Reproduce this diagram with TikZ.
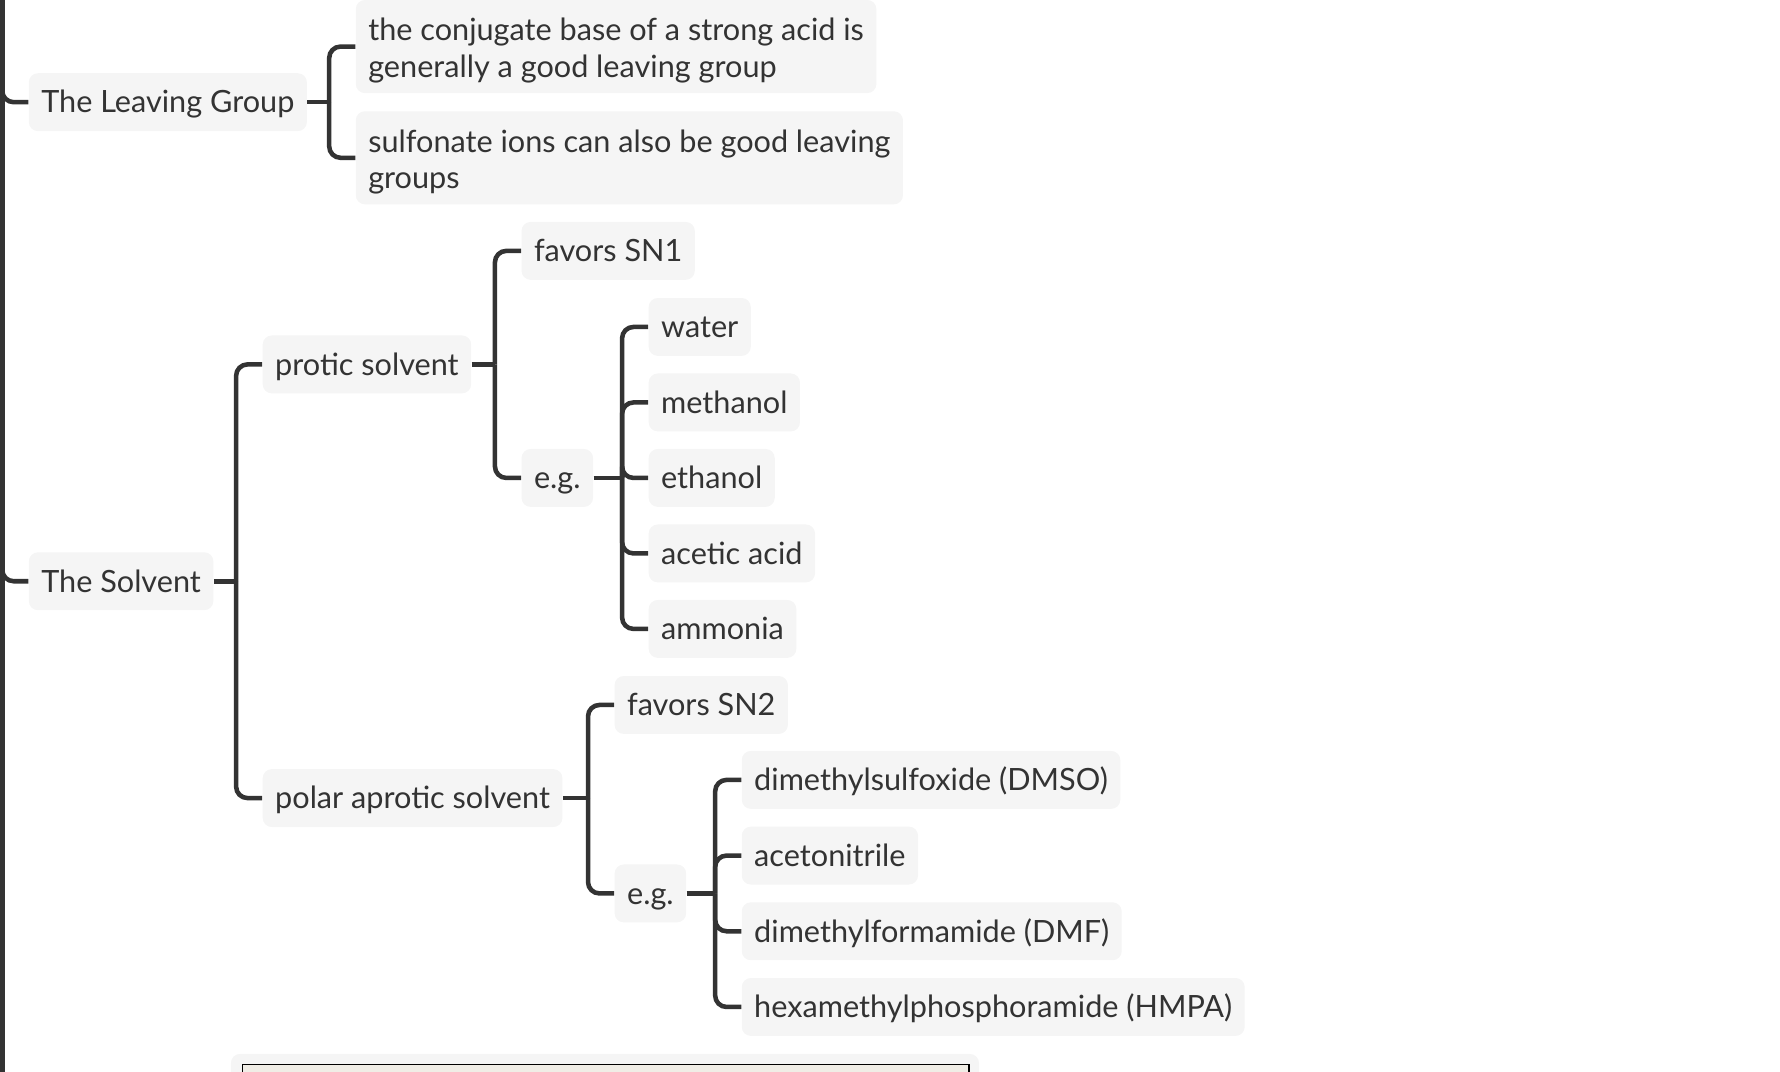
\documentclass[tikz,border=0pt]{standalone}
\usepackage{fontspec}
\setmainfont{Lato}
\usetikzlibrary{positioning}
\definecolor{linegray}{HTML}{333333}
\definecolor{boxgray}{HTML}{F5F5F5}
\definecolor{paper}{HTML}{F0EDE6}

\begin{document}
\begin{tikzpicture}[x=0.5pt,y=-0.5pt]
    \tikzstyle{box}=[anchor=west, fill=boxgray, rounded corners=4pt, text=linegray, font=\fontsize{13.5}{16}\selectfont, inner xsep=5.5pt]
    \tikzstyle{topic}=[box, minimum height=25.5pt, text height=11pt, text depth=1.5pt]
    \tikzstyle{long topic}=[box, align=left, minimum height=41pt, text height=29pt, text depth=2pt]
    \tikzstyle{branch}=[draw=linegray, line width=2pt, rounded corners=5pt]

    \clip (0,0) rectangle (1568,944);

% Nodes
    % The leaving group
    \node[topic] (LG) at (25,90) {The Leaving Group};
    \node[long topic] (LG-1) at (313,41) {the conjugate base of a strong acid is\\generally a good leaving group};
    \node[long topic] (LG-2) at (313,139) {sulfonate ions can also be good leaving\\groups};

    % The solvent
    \node[topic] (S) at (25,512) {The Solvent};

    % Protic solvent
    \node[topic] (P) at (231,321) {protic solvent};
    \node[topic] (P-1) at (459,221) {favors SN1};
    \node[topic] (P-2) at (459,421) {e.g.};
    \foreach \txt [count=\i] in {water, methanol, ethanol, acetic acid, ammonia}
        \node[topic] (P-2-\i) at (571,{288+(\i-1)*66.5}) {\txt};

    % Polar aprotic solvent
    \node[topic] (A) at (231,703) {polar aprotic solvent};
    \node[topic] (A-1) at (541,621) {favors SN2};
    \node[topic] (A-2) at (541,787) {e.g.};
    \foreach \txt [count=\i] in {{dimethylsulfoxide (DMSO)}, acetonitrile, {dimethylformamide (DMF)}, {hexamethylphosphoramide (HMPA)}}
        \node[topic] (A-2-\i) at (653,{687+(\i-1)*66.67}) {\txt};

    % Next topic, cut off
    \node[box, anchor=north west, minimum width=329.5pt, minimum height=40pt] (N) at (203,928) {};
    \node[draw=black, fill=paper, line width=0.6pt, rounded corners=0pt, anchor=north west, minimum width=320pt, minimum height=30pt] (N-img) at (213,937) {};

% Paths
    \coordinate (root-top) at (2,-10);
    \coordinate (root-bot) at (2,960);
    \draw[branch] (root-top) -- (root-bot);
    \foreach \c in {LG,S}
        \draw[branch] (root-top) |- (\c.west);

    % Spines
    \coordinate (LG-s) at (290,90);
    \coordinate (S-s) at (208,512);
    \coordinate (P-s) at (436,321);
    \coordinate (P-2-s) at (548,421);
    \coordinate (A-s) at (518,703);
    \coordinate (A-2-s) at (630,787);

    \foreach \p in {LG,S,P,P-2,A,A-2}
        \draw[branch] (\p.east) -- (\p-s);

    \foreach \c in {LG-1,LG-2}
        \draw[branch] (LG-s) |- (\c.west);
    \foreach \c in {P,A}
        \draw[branch] (S-s) |- (\c.west);
    \foreach \c in {P-1,P-2}
        \draw[branch] (P-s) |- (\c.west);
    \foreach \c in {A-1,A-2}
        \draw[branch] (A-s) |- (\c.west);
    \foreach \i in {1,...,5}
        \draw[branch] (P-2-s) |- (P-2-\i.west);
    \foreach \i in {1,...,4}
        \draw[branch] (A-2-s) |- (A-2-\i.west);

\end{tikzpicture}
\end{document}
